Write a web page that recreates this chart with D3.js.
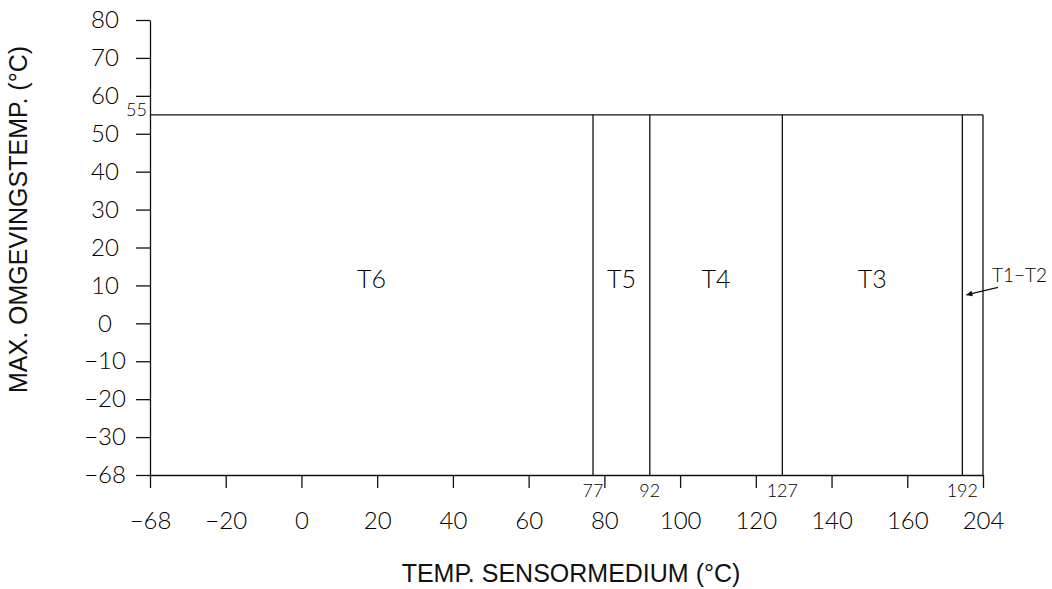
<!DOCTYPE html>
<html lang="nl">
  <head>
    <meta charset="utf-8">
    <title>Temperatuurklassen</title>
    <script src="https://cdn.jsdelivr.net/npm/d3@7"></script>
    <style>
      body { margin: 0; background: #fff; }
      .tick text { font-family: Lato, "DejaVu Sans", sans-serif; font-weight: 300; fill: #000; }
      .title { font-family: "Liberation Sans", Arial, sans-serif; fill: #111; }
      .small { font-family: Lato, "DejaVu Sans", sans-serif; font-weight: 300; fill: #000; }
    </style>
  </head>
  <body>
    <script>
      // ticks on both axes (the ends -68 / 204 sit on a broken axis)
      var xTicks = [-68, -20, 0, 20, 40, 60, 80, 100, 120, 140, 160, 204];
      var yTicks = [-68, -30, -20, -10, 0, 10, 20, 30, 40, 50, 60, 70, 80];

      // max ambient temp and the class boundaries of the medium temp
      var maxAmbient = 55;
      var boundaries = [77, 92, 127, 192];
      var classNames = ["T6", "T5", "T4", "T3", "T1\u2212T2"];
      var xMin = -68, xMax = 204;
      var yMin = -68, yMax = 80;
      var labelTemp = 10;

      var width = 1052, height = 589;
      var marginLeft = 150, marginRight = 69, marginTop = 20, marginBottom = 114;

      // linear part of the x axis runs -40..180, the ends are stubs for -68 and 204
      var xLin = d3.scaleLinear([-40, 180], [marginLeft, width - marginRight]);
      var x = d3.scaleLinear()
          .domain([xMin, -20, 160, xMax])
          .range([xLin(-40), xLin(-20), xLin(160), xLin(180)]);

      var yLin = d3.scaleLinear([-40, 80], [height - marginBottom, marginTop]);
      var y = d3.scaleLinear()
          .domain([yMin, -30, yMax])
          .range([yLin(-40), yLin(-30), yLin(80)]);

      var svg = d3.select("body").append("svg")
          .attr("width", width)
          .attr("height", height)
          .attr("viewBox", [0, 0, width, height]);

      var fmt = d3.format("d");

      // y axis
      svg.append("g")
          .attr("transform", `translate(${x(xMin)},0)`)
          .call(d3.axisLeft(y).tickValues(yTicks).tickFormat(fmt).tickSize(14).tickSizeOuter(0))
          .call(g => g.selectAll("path, line").attr("stroke", "#111").attr("stroke-width", 1.3))
          .call(g => g.selectAll(".tick text")
              .attr("x", -45)
              .attr("text-anchor", "middle")
              .attr("font-size", 24));

      // x axis
      svg.append("g")
          .attr("transform", `translate(0,${y(yMin)})`)
          .call(d3.axisBottom(x).tickValues(xTicks).tickFormat(fmt).tickSize(13).tickPadding(24).tickSizeOuter(0))
          .call(g => g.selectAll("path, line").attr("stroke", "#111").attr("stroke-width", 1.3))
          .call(g => g.selectAll(".tick text").attr("font-size", 24));

      var lines = svg.append("g")
          .attr("stroke", "#111")
          .attr("stroke-width", 1.3)
          .attr("fill", "none");

      // max ambient line + right edge
      lines.append("line")
          .attr("x1", x(xMin)).attr("x2", x(xMax))
          .attr("y1", y(maxAmbient)).attr("y2", y(maxAmbient));
      lines.append("line")
          .attr("x1", x(xMax)).attr("x2", x(xMax))
          .attr("y1", y(maxAmbient)).attr("y2", y(yMin));

      // class boundaries
      lines.selectAll(".bound")
          .data(boundaries)
          .join("line")
          .attr("class", "bound")
          .attr("x1", d => x(d)).attr("x2", d => x(d))
          .attr("y1", y(maxAmbient)).attr("y2", y(yMin));

      svg.selectAll(".blabel")
          .data(boundaries)
          .join("text")
          .attr("class", "small blabel")
          .attr("x", d => x(d))
          .attr("y", y(yMin) + 22)
          .attr("text-anchor", "middle")
          .attr("font-size", 18)
          .text(d => d);

      svg.append("text")
          .attr("class", "small")
          .attr("x", x(xMin) - 3)
          .attr("y", y(maxAmbient) + 1)
          .attr("text-anchor", "end")
          .attr("font-size", 18)
          .text(maxAmbient);

      // class labels in the middle of each band
      var edges = [xMin].concat(boundaries);
      svg.selectAll(".clabel")
          .data(classNames.slice(0, 4))
          .join("text")
          .attr("class", "small clabel")
          .attr("x", (d, i) => (x(edges[i]) + x(edges[i + 1])) / 2)
          .attr("y", y(labelTemp))
          .attr("dy", "0.12em")
          .attr("text-anchor", "middle")
          .attr("font-size", 25)
          .text(d => d);

      // T1-T2 band is too narrow, label outside with an arrow
      svg.append("defs").append("marker")
          .attr("id", "head")
          .attr("viewBox", "0 -5 10 10")
          .attr("refX", 10)
          .attr("markerWidth", 14)
          .attr("markerHeight", 6)
          .attr("markerUnits", "userSpaceOnUse")
          .attr("orient", "auto")
          .append("path")
          .attr("d", "M0,-5L10,0L0,5Z")
          .attr("fill", "#111");

      svg.append("line")
          .attr("x1", x(xMax) + 15).attr("y1", y(labelTemp - 0.5))
          .attr("x2", x(192) + 4).attr("y2", y(labelTemp - 2.5))
          .attr("stroke", "#111")
          .attr("stroke-width", 1.3)
          .attr("marker-end", "url(#head)");

      svg.append("text")
          .attr("class", "small")
          .attr("x", x(xMax) + 9)
          .attr("y", y(labelTemp) - 3)
          .attr("font-size", 19)
          .text(classNames[4]);

      // axis titles
      svg.append("text")
          .attr("class", "title")
          .attr("transform", `translate(27,${(y(yMin) + y(yMax)) / 2 - 28}) rotate(-90)`)
          .attr("text-anchor", "middle")
          .attr("font-size", 25)
          .text("MAX. OMGEVINGSTEMP. (°C)");

      svg.append("text")
          .attr("class", "title")
          .attr("x", 571)
          .attr("y", 582)
          .attr("text-anchor", "middle")
          .attr("font-size", 25)
          .text("TEMP. SENSORMEDIUM (°C)");
    </script>
  </body>
</html>
